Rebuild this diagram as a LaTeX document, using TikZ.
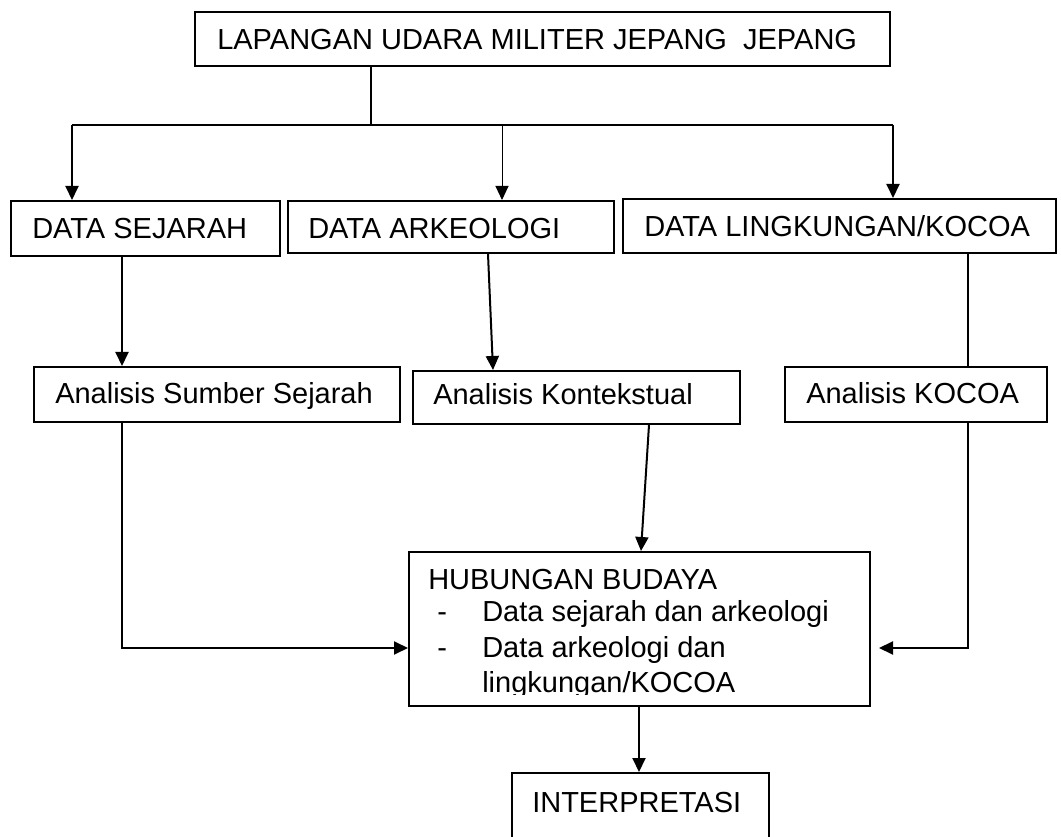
\documentclass[tikz,border=0pt]{standalone}
\usepackage{fontspec}
\setmainfont{Liberation Sans}
\usetikzlibrary{arrows.meta,calc}
\begin{document}
\begin{tikzpicture}[x=0.75pt,y=-0.75pt,
  box/.style={draw,line width=1.5pt,inner sep=0pt,anchor=north west},
  txt/.style={anchor=base west,inner sep=0pt,font=\fontsize{21.75pt}{26pt}\selectfont},
  conn/.style={line width=1.5pt},
  arr/.style={line width=1.5pt,-{Triangle[length=10.5pt,width=9.75pt]}},
  thinarr/.style={line width=0.75pt,-{Triangle[length=10.5pt,width=9.75pt]}}]
\clip (0,0) rectangle (1061,837);
\fill[white] (0,0) rectangle (1061,837);
% boxes
\node[box,minimum width=521.25pt,minimum height=40.5pt] (top) at (194,11) {};
\node[box,minimum width=201.75pt,minimum height=41.25pt] (sej) at (10,200) {};
\node[box,minimum width=244.5pt,minimum height=39pt] (ark) at (287,200) {};
\node[box,minimum width=324.75pt,minimum height=40.5pt] (lin) at (622,198) {};
\node[box,minimum width=274.5pt,minimum height=41.25pt] (ass) at (33,366) {};
\node[box,minimum width=245.25pt,minimum height=39.75pt] (akt) at (412,370) {};
\node[box,minimum width=196.5pt,minimum height=41.25pt] (ako) at (784,366) {};
\node[box,minimum width=345.75pt,minimum height=115.5pt] (hub) at (408,551) {};
\node[box,minimum width=192.75pt,minimum height=66pt] (int) at (511,772) {};
% texts
\node[txt] (ttop) at (217,50) {LAPANGAN UDARA MILITER JEPANG\ \ JEPANG};
\node[txt] (tsej) at (32,239) {DATA SEJARAH};
\node[txt] (tark) at (308,239) {DATA ARKEOLOGI};
\node[txt] (tlin) at (644,237) {DATA LINGKUNGAN/KOCOA};
\node[txt] (tass) at (55,404) {Analisis Sumber Sejarah};
\node[txt] (takt) at (433,405) {Analisis Kontekstual};
\node[txt] (tako) at (806,404) {Analisis KOCOA};
\node[txt] (tint) at (532,812) {INTERPRETASI};
\begin{scope}
\clip (408,551) rectangle (869,695);
\node[txt] (thub) at (428,590) {HUBUNGAN BUDAYA};
\node[txt] (d1) at (437,622) {-};
\node[txt] (i1) at (482,622) {Data sejarah dan arkeologi};
\node[txt] (d2) at (437,658) {-};
\node[txt] (i2) at (482,658) {Data arkeologi dan};
\node[txt] (i3) at (482,692) {lingkungan/KOCOA};
\end{scope}
% connectors
\coordinate (split) at (371,125);
\coordinate (hl) at (72,125);
\coordinate (hm) at (502,125);
\coordinate (hr) at (893,125);
\draw[conn] (top.south -| split) -- (split);
\draw[conn] (hl) -- (hr);
\draw[arr] (hl) -- (hl |- sej.north);
\draw[thinarr] (hm) -- (hm |- ark.north);
\draw[arr] (hr) -- (hr |- lin.north);
\coordinate (c1) at (122,0);
\draw[arr] (c1 |- sej.south) -- (c1 |- ass.north);
\coordinate (c2a) at (488,0);
\coordinate (c2b) at (493,0);
\draw[arr] (c2a |- ark.south) -- (c2b |- akt.north);
\coordinate (c3) at (968,0);
\draw[conn] (c3 |- lin.south) -- (c3 |- ako.north);
\coordinate (c4a) at (649,0);
\coordinate (c4b) at (641,0);
\draw[arr] (c4a |- akt.south) -- (c4b |- hub.north);
\coordinate (yarr) at (0,648);
\draw[arr] (c1 |- ass.south) -- (c1 |- yarr) -- (hub.west |- yarr);
\draw[arr] (c3 |- ako.south) -- (c3 |- yarr) -- ($(hub.east |- yarr)+(8,0)$);
\coordinate (c5) at (639,0);
\draw[arr] (c5 |- hub.south) -- (c5 |- int.north);
\end{tikzpicture}
\end{document}
